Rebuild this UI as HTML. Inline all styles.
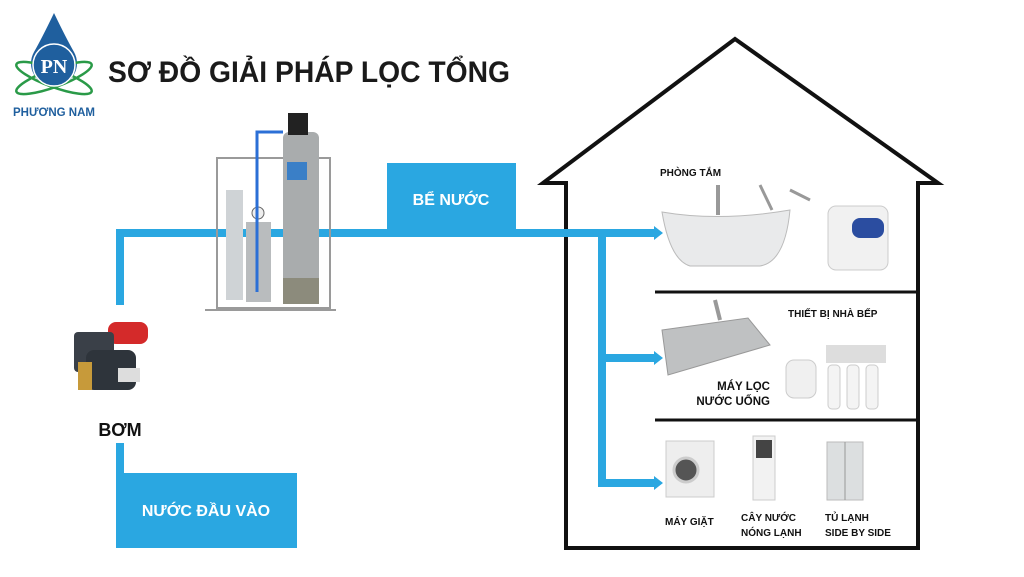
<!DOCTYPE html>
<html><head><meta charset="utf-8"><style>
html,body{margin:0;padding:0;background:#fff;}
svg{display:block;}
</style></head><body>
<svg width="1024" height="577" viewBox="0 0 1024 577" xmlns="http://www.w3.org/2000/svg" font-family="Liberation Sans, sans-serif">
<rect width="1024" height="577" fill="#fff"/>
<!-- logo -->
<path d="M54 13 Q42 38 34 52 A23 23 0 1 0 74 52 Q66 38 54 13Z" fill="#1f5f9e"/>
<ellipse cx="54" cy="78" rx="40" ry="9" fill="none" stroke="#2a9a48" stroke-width="2.5" transform="rotate(20 54 78)"/>
<ellipse cx="54" cy="78" rx="40" ry="9" fill="none" stroke="#2a9a48" stroke-width="2.5" transform="rotate(-20 54 78)"/>
<circle cx="54" cy="65" r="21" fill="#1f5f9e" stroke="#fff" stroke-width="1.5"/>
<text x="54" y="73" font-size="20" font-weight="bold" fill="#fff" text-anchor="middle" font-family="Liberation Serif, serif">PN</text>
<text x="54" y="116" font-size="11.5" font-weight="bold" fill="#1f5f9e" text-anchor="middle">PHƯƠNG NAM</text>
<text x="108" y="82" font-size="30" font-weight="bold" fill="#1a1a1a" textLength="402" lengthAdjust="spacingAndGlyphs">SƠ ĐỒ GIẢI PHÁP LỌC TỔNG</text>

<!-- house -->
<path d="M566 548 L566 183 L543 183 L735 39 L938 183 L918 183 L918 548 Z" fill="none" stroke="#111" stroke-width="4" stroke-linejoin="miter"/>
<line x1="655" y1="292" x2="918" y2="292" stroke="#111" stroke-width="3"/>
<line x1="655" y1="420" x2="918" y2="420" stroke="#111" stroke-width="3"/>

<!-- pipes -->
<g fill="#2aa7e1">
<rect x="116" y="229" width="8" height="76"/>
<rect x="116" y="229" width="540" height="8"/>
<rect x="598" y="229" width="8" height="258"/>
<rect x="598" y="354" width="58" height="8"/>
<rect x="598" y="479" width="58" height="8"/>
<polygon points="654,226 663,233 654,240"/>
<polygon points="654,351 663,358 654,365"/>
<polygon points="654,476 663,483 654,490"/>
<rect x="116" y="443" width="8" height="35"/>
<rect x="116" y="473" width="181" height="75"/>
<rect x="387" y="163" width="129" height="70"/>
</g>
<text x="206" y="516" font-size="16" font-weight="bold" fill="#fff" text-anchor="middle">NƯỚC ĐẦU VÀO</text>
<text x="451" y="205" font-size="16" font-weight="bold" fill="#fff" text-anchor="middle">BỂ NƯỚC</text>

<!-- pump -->
<rect x="108" y="322" width="40" height="22" rx="8" fill="#d42a2a"/>
<rect x="74" y="332" width="40" height="40" rx="4" fill="#3a4048"/>
<rect x="86" y="350" width="50" height="40" rx="8" fill="#2e343b"/>
<rect x="78" y="362" width="14" height="28" fill="#c79a3a"/>
<rect x="118" y="368" width="22" height="14" fill="#ddd"/>
<text x="120" y="436" font-size="18" font-weight="bold" fill="#111" text-anchor="middle">BƠM</text>

<!-- filter system -->
<g stroke="#9a9a9a" stroke-width="2" fill="none">
<rect x="217" y="158" width="113" height="150"/>
<line x1="205" y1="310" x2="336" y2="310"/>
</g>
<rect x="226" y="190" width="17" height="110" fill="#cfd3d6"/>
<rect x="246" y="222" width="25" height="80" fill="#b9bcbe"/>
<circle cx="258" cy="213" r="6" fill="#eee" stroke="#666"/>
<rect x="283" y="132" width="36" height="172" rx="6" fill="#a9acad"/>
<rect x="283" y="278" width="36" height="26" fill="#8c8b7c"/>
<rect x="288" y="113" width="20" height="22" fill="#222"/>
<rect x="287" y="162" width="20" height="18" fill="#3a7fc7"/>
<path d="M283 132 L257 132 L257 292" stroke="#2b6fd6" stroke-width="3" fill="none"/>

<!-- labels -->
<g font-size="10" font-weight="bold" fill="#111">
<text x="660" y="176">PHÒNG TẮM</text>
<text x="788" y="317">THIẾT BỊ NHÀ BẾP</text>
<text x="770" y="390" text-anchor="end" font-size="11.5">MÁY LỌC</text>
<text x="770" y="405" text-anchor="end" font-size="11.5">NƯỚC UỐNG</text>
<text x="665" y="525">MÁY GIẶT</text>
<text x="741" y="521">CÂY NƯỚC</text>
<text x="741" y="536">NÓNG LẠNH</text>
<text x="825" y="521">TỦ LẠNH</text>
<text x="825" y="536">SIDE BY SIDE</text>
</g>

<!-- bathroom -->
<path d="M662 212 Q720 222 790 210 Q785 262 760 266 L690 266 Q670 260 662 212Z" fill="#e9eaeb" stroke="#bbb"/>
<rect x="716" y="185" width="4" height="30" fill="#999"/>
<path d="M760 185 L772 210 M790 190 L810 200" stroke="#999" stroke-width="3"/>
<rect x="828" y="206" width="60" height="64" rx="8" fill="#f1f1f1" stroke="#ccc"/>
<rect x="852" y="218" width="32" height="20" rx="8" fill="#2b4da0"/>

<!-- kitchen -->
<path d="M662 330 L748 318 L770 345 L668 375Z" fill="#bfc1c2" stroke="#999"/>
<path d="M715 300 L720 320" stroke="#999" stroke-width="4"/>
<rect x="786" y="360" width="30" height="38" rx="8" fill="#f0f0f0" stroke="#ccc"/>
<rect x="826" y="345" width="60" height="18" fill="#ddd"/>
<rect x="828" y="365" width="12" height="44" rx="4" fill="#f4f4f4" stroke="#ccc"/>
<rect x="847" y="365" width="12" height="44" rx="4" fill="#f4f4f4" stroke="#ccc"/>
<rect x="866" y="365" width="12" height="44" rx="4" fill="#f4f4f4" stroke="#ccc"/>

<!-- laundry row -->
<rect x="666" y="441" width="48" height="56" fill="#eee" stroke="#ccc"/>
<circle cx="686" cy="470" r="12" fill="#555" stroke="#ccc" stroke-width="3"/>
<rect x="753" y="436" width="22" height="64" fill="#f2f2f2" stroke="#ccc"/>
<rect x="756" y="440" width="16" height="18" fill="#444"/>
<rect x="827" y="442" width="36" height="58" fill="#dcdfe0" stroke="#bbb"/>
<line x1="845" y1="442" x2="845" y2="500" stroke="#999"/>
</svg>
</body></html>
